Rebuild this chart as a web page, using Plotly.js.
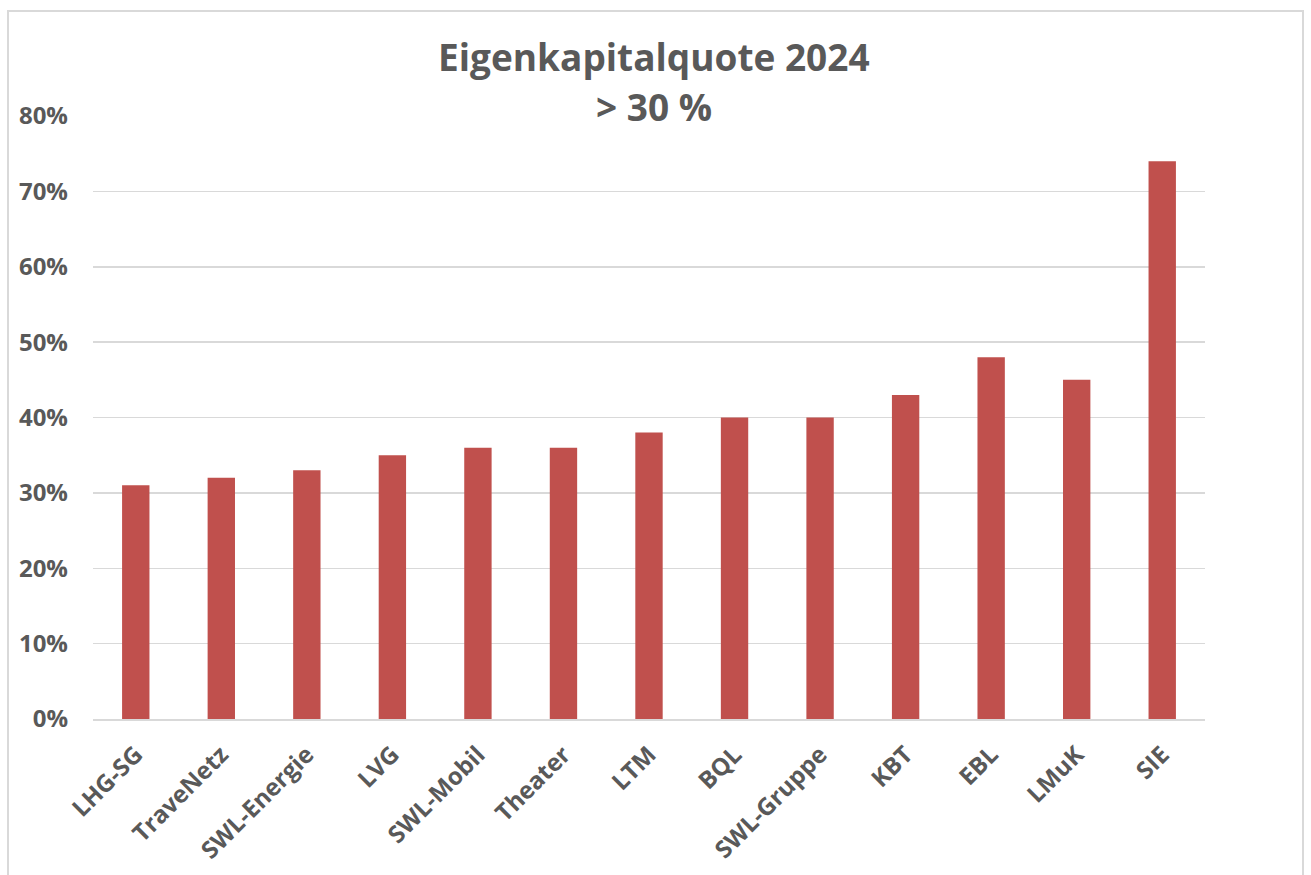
<!DOCTYPE html>
<html>
<head>
<meta charset="utf-8">
<script src="https://cdn.plot.ly/plotly-3.0.1.min.js"></script>
<style>
html,body{margin:0;padding:0;background:#fff;}
#chart{width:1311px;height:875px;}
#frame{position:absolute;left:7px;top:10px;width:1297px;height:900px;border:2px solid #d9d9d9;pointer-events:none;box-sizing:border-box;}
</style>
</head>
<body>
<div id="chart"></div>
<div id="frame"></div>
<script>
const categories = ["LHG-SG","TraveNetz","SWL-Energie","LVG","SWL-Mobil","Theater","LTM","BQL","SWL-Gruppe","KBT","EBL","LMuK","SIE"];
const values = [0.31,0.32,0.33,0.35,0.36,0.36,0.38,0.40,0.40,0.43,0.48,0.45,0.74];
const yTicks = [0,0.1,0.2,0.3,0.4,0.5,0.6,0.7,0.8];
const yTickLabels = ["0%","10%","20%","30%","40%","50%","60%","70%","80%"];
const titleLine1 = "Eigenkapitalquote 2024";
const titleLine2 = "> 30 %";

const textColor = "#595959";
const fontFam = "'Open Sans', sans-serif";
const titleFont = {family: fontFam, size: 37, color: textColor, weight: "bold"};

Plotly.newPlot("chart", [{
  type: "bar",
  x: categories,
  y: values,
  marker: {color: "#C0504D"},
  width: 0.32,
  hoverinfo: "none"
}], {
  width: 1311, height: 875,
  margin: {l: 93, r: 106, t: 116, b: 156},
  paper_bgcolor: "#fff", plot_bgcolor: "#fff",
  showlegend: false,
  annotations: [
    {text: titleLine1, xref: "paper", yref: "paper", x: 0.5045, y: 1.098, xanchor: "center", yanchor: "middle", showarrow: false, font: titleFont},
    {text: titleLine2, xref: "paper", yref: "paper", x: 0.5045, y: 1.015, xanchor: "center", yanchor: "middle", showarrow: false, font: titleFont}
  ],
  xaxis: {
    tickangle: -45,
    tickfont: {family: fontFam, size: 24, color: textColor, weight: "bold"},
    showgrid: false,
    showline: true, linecolor: "#d9d9d9", linewidth: 2,
    ticks: "", ticklabelstandoff: 10,
    fixedrange: true
  },
  yaxis: {
    range: [0, 0.8],
    tickvals: yTicks, ticktext: yTickLabels,
    tickfont: {family: fontFam, size: 24, color: textColor, weight: "bold"},
    showgrid: true, gridcolor: "#d9d9d9", gridwidth: 1.5,
    zeroline: false, showline: false,
    ticks: "", ticklabelstandoff: 24,
    fixedrange: true
  }
}, {displayModeBar: false, staticPlot: true});
</script>
</body>
</html>
